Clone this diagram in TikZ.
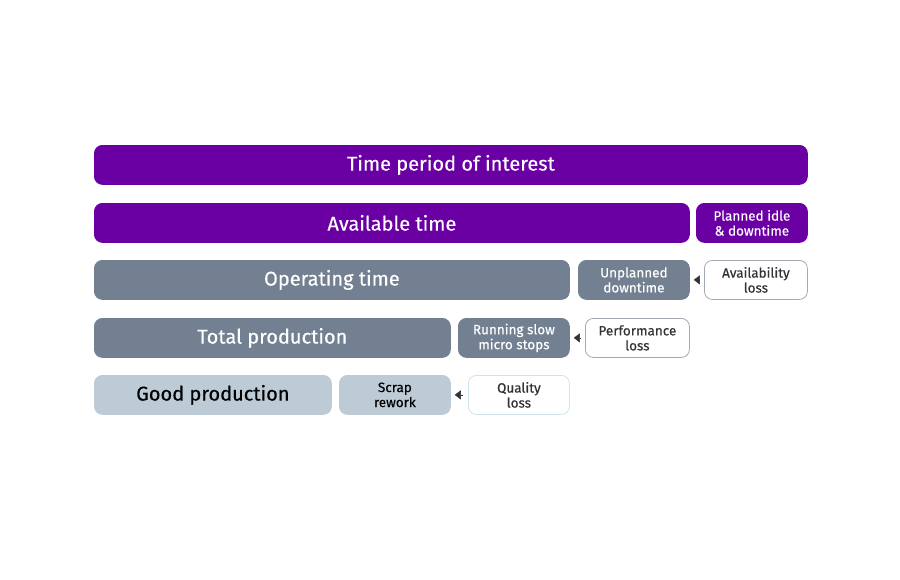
\documentclass[tikz,border=0pt]{standalone}
\usepackage{fontspec}
\setmainfont{Fira Sans}[FakeBold=0.35]
\usetikzlibrary{arrows.meta}
\definecolor{purp}{HTML}{6A00A3}
\definecolor{slate}{HTML}{738092}
\definecolor{pale}{HTML}{BDCBD6}
\definecolor{lossline}{HTML}{A3AAB3}
\definecolor{qline}{HTML}{CFE3EA}
\definecolor{tipc}{HTML}{2F3338}
\tikzset{
  x=1pt,y=-1pt,
  bar/.style={rounded corners=8pt, inner sep=0pt, align=center, anchor=north west, line width=0.8pt},
  bigt/.style={font=\fontsize{20}{22}\selectfont},
  smallt/.style={font=\fontsize{13.5}{15}\selectfont},
  purplebar/.style={bar, fill=purp, draw=purp, text=white},
  slatebar/.style={bar, fill=slate, draw=slate, text=white},
  palebar/.style={bar, fill=pale, draw=pale, text=black},
  lossbar/.style={bar, fill=white, draw=lossline, text=black!80},
  qbar/.style={bar, fill=white, draw=qline, text=black!80},
  tip/.style={-{Triangle[length=6pt,width=9pt]}, tipc, draw=tipc, shorten >=4pt, shorten <=5pt, line width=0.4pt},
}
\begin{document}
\begin{tikzpicture}
\useasboundingbox (0,0) rectangle (900,579);
% row 1
\node[purplebar,bigt, minimum width=713pt, minimum height=39pt] (tpi) at (94,145) {Time period of interest};
% row 2
\node[purplebar,bigt, minimum width=595pt, minimum height=39pt] (avail) at (94,203) {Available time};
\node[purplebar,smallt, minimum width=111pt, minimum height=39pt] (planned) at (696,203) {Planned idle\\\& downtime};
% row 3
\node[slatebar,bigt, minimum width=475pt, minimum height=39pt] (oper) at (94,260) {Operating time};
\node[slatebar,smallt, minimum width=111pt, minimum height=39pt] (unpl) at (578,260) {Unplanned\\downtime};
\node[lossbar,smallt, minimum width=103pt, minimum height=39pt] (availloss) at (704,260) {Availability\\loss};
% row 4
\node[slatebar,bigt, minimum width=356pt, minimum height=39pt] (total) at (94,318) {Total production};
\node[slatebar,smallt, minimum width=111pt, minimum height=39pt] (slow) at (458,318) {Running slow\\micro stops};
\node[lossbar,smallt, minimum width=104pt, minimum height=39pt] (perfloss) at (585,318) {Performance\\loss};
% row 5
\node[palebar,bigt, minimum width=237pt, minimum height=39pt] (good) at (94,375) {Good production};
\node[palebar,smallt, minimum width=111pt, minimum height=39pt] (scrap) at (339,375) {Scrap\\rework};
\node[qbar,smallt, minimum width=101pt, minimum height=39pt] (qloss) at (468,375) {Quality\\loss};
% pointers
\draw[tip] (availloss.west) -- (unpl.east);
\draw[tip] (perfloss.west) -- (slow.east);
\draw[tip] (qloss.west) -- (scrap.east);
\end{tikzpicture}
\end{document}
